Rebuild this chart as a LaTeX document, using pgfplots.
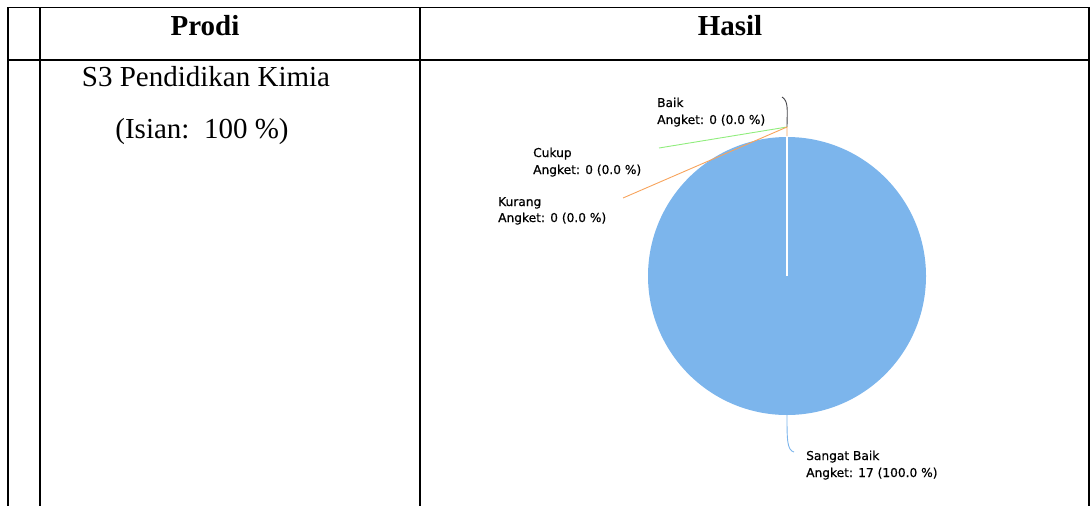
\documentclass[border=0pt]{standalone}
\usepackage{fontspec}
\setmainfont{Liberation Serif}
\newfontfamily\lab[FakeBold=0.6]{DejaVu Sans}
\usepackage{pgfplots}
\usepackage{pgfplotstable}
\pgfplotsset{compat=1.18}
\definecolor{pieblue}{HTML}{7CB5EC}
\definecolor{piedark}{HTML}{434348}
\definecolor{piegreen}{HTML}{90ED7D}
\definecolor{pieorange}{HTML}{F7A35C}
\pgfplotstableread[col sep=comma]{
label,value
Sangat Baik,17
Baik,0
Cukup,0
Kurang,0
}\piedata
\begin{document}
\begin{tikzpicture}
\pgfplotstablegetelem{0}{value}\of\piedata \let\vA\pgfplotsretval
\pgfplotstablegetelem{1}{value}\of\piedata \let\vB\pgfplotsretval
\pgfplotstablegetelem{2}{value}\of\piedata \let\vC\pgfplotsretval
\pgfplotstablegetelem{3}{value}\of\piedata \let\vD\pgfplotsretval
\pgfmathsetmacro\total{\vA+\vB+\vC+\vD}
\pgfmathsetmacro\angA{360*\vA/\total}
\pgfmathsetmacro\endA{90-\angA}
\begin{axis}[
  scale only axis, width=1091bp, height=506bp,
  xmin=0, xmax=1091, ymin=0, ymax=506, y dir=reverse,
  hide axis, clip=false]
\addplot[draw=none] coordinates {(0,0) (1091,506)};
% table lines
\draw[line width=1.6bp, black] (axis cs:8,7.5) -- (axis cs:1089,7.5);
\draw[line width=1.6bp, black] (axis cs:8,60) -- (axis cs:1089,60);
\draw[line width=1.6bp, black] (axis cs:8,7.5) -- (axis cs:8,506);
\draw[line width=1.6bp, black] (axis cs:40,7.5) -- (axis cs:40,506);
\draw[line width=1.6bp, black] (axis cs:420,7.5) -- (axis cs:420,506);
\draw[line width=1.6bp, black] (axis cs:1089,7.5) -- (axis cs:1089,506);
% header / cell text
\node[anchor=base, font=\fontsize{29bp}{35bp}\selectfont\bfseries] at (axis cs:205,36) {Prodi};
\node[anchor=base, font=\fontsize{29bp}{35bp}\selectfont\bfseries] at (axis cs:730,36) {Hasil};
\node[anchor=base, font=\fontsize{29bp}{35bp}\selectfont] at (axis cs:206,87) {S3 Pendidikan Kimia};
\node[anchor=base, font=\fontsize{29bp}{35bp}\selectfont] at (axis cs:202,138) {(Isian:\ \ 100 \%)};
% pie
\fill[pieblue] (axis cs:787,276) -- ++(90:139bp) arc[start angle=90, end angle=\endA, radius=139bp] -- cycle;
\draw[white, line width=1.2bp] (axis cs:787,276) -- (axis cs:787,137);
% connectors
\draw[piedark, line width=0.9bp] (axis cs:782,97) .. controls (axis cs:789,101) and (axis cs:787,112) .. (axis cs:787,127);
\draw[piegreen, line width=0.9bp] (axis cs:659,148) -- (axis cs:787,127);
\draw[pieorange, line width=0.9bp] (axis cs:623,198) -- (axis cs:787,127) -- (axis cs:787,136);
\draw[pieblue, line width=0.9bp] (axis cs:787,415) .. controls (axis cs:787,440) and (axis cs:787,450) .. (axis cs:794,452);
% labels
\begin{scope}[every node/.style={anchor=base west, inner sep=0pt, font=\lab\fontsize{12.2bp}{14bp}\selectfont}]
\node at (axis cs:657,107) {Baik};
\node at (axis cs:657,124) {Angket: 0 (0.0 \%)};
\node at (axis cs:533,157) {Cukup};
\node at (axis cs:533,174) {Angket: 0 (0.0 \%)};
\node at (axis cs:498,206) {Kurang};
\node at (axis cs:498,222) {Angket: 0 (0.0 \%)};
\node at (axis cs:806,460) {Sangat Baik};
\node at (axis cs:806,477) {Angket: 17 (100.0 \%)};
\end{scope}
\end{axis}
\end{tikzpicture}
\end{document}
